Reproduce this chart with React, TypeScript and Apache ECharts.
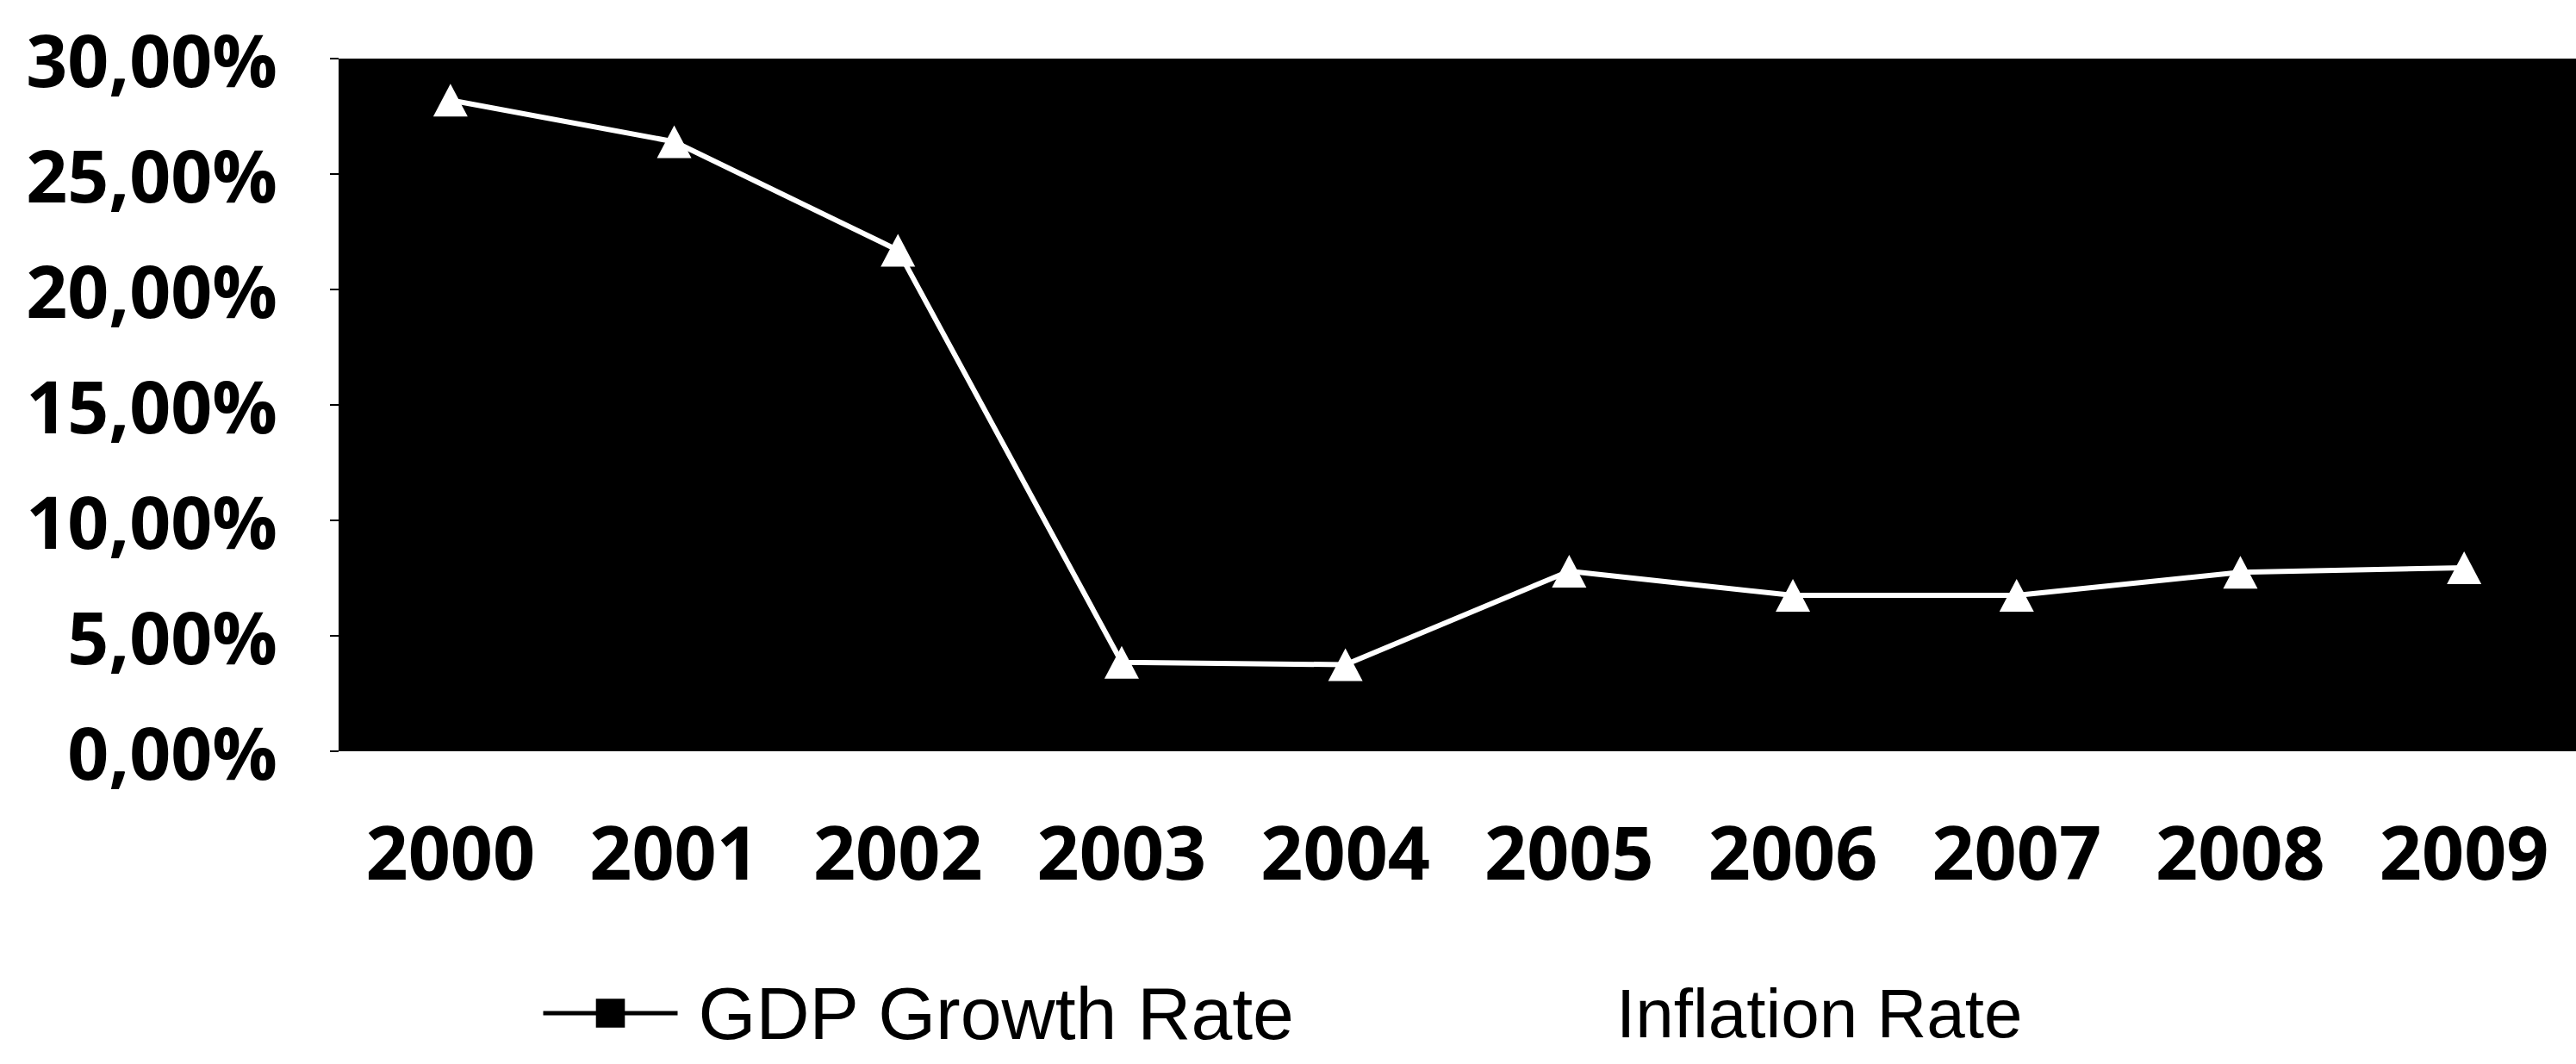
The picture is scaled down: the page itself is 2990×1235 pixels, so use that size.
import React, { useEffect, useRef } from "react";
import * as echarts from "echarts";

// ---- data ----
const years: string[] = ["2000", "2001", "2002", "2003", "2004", "2005", "2006", "2007", "2008", "2009"];
// Inflation Rate (%), white line with triangles
const inflationRate: number[] = [28.2, 26.4, 21.7, 3.85, 3.75, 7.8, 6.75, 6.75, 7.75, 7.95];
// GDP Growth Rate (%): drawn black on the black plot area, values not readable
const gdpGrowthRate: (number | null)[] = [null, null, null, null, null, null, null, null, null, null];
const yMin = 0;
const yMax = 30;
const yStep = 5;

const fmtPct = (v: number) => v.toFixed(2).replace(".", ",") + "%";

export default function App() {
  const ref = useRef<HTMLDivElement>(null);
  useEffect(() => {
    if (!ref.current) return;
    const chart = echarts.init(ref.current, undefined, { renderer: "svg" });
    chart.setOption({
      animation: false,
      backgroundColor: "#ffffff",
      grid: {
        left: 393,
        right: -24,
        top: 68,
        bottom: 363,
        show: true,
        backgroundColor: "#000000",
        borderWidth: 0,
      },
      xAxis: {
        type: "category",
        data: years,
        boundaryGap: true,
        axisLine: { show: false },
        axisTick: { show: false },
        axisLabel: {
          interval: 0,
          hideOverlap: false,
          margin: 72,
          color: "#000",
          fontFamily: "'Open Sans', 'Noto Sans', sans-serif",
          fontWeight: "bold",
          fontSize: 86,
        },
      },
      yAxis: {
        type: "value",
        min: yMin,
        max: yMax,
        interval: yStep,
        splitLine: { show: false },
        axisLine: { show: false },
        axisTick: { show: true, length: 10, lineStyle: { color: "#000", width: 2 } },
        axisLabel: {
          margin: 71,
          color: "#000",
          fontFamily: "'Open Sans', 'Noto Sans', sans-serif",
          fontWeight: "bold",
          fontSize: 84,
          formatter: (v: number) => fmtPct(v),
        },
      },
      legend: {
        left: 623,
        top: 1128,
        itemWidth: 156,
        itemHeight: 42,
        itemGap: 190,
        lineStyle: { width: 5 },
        data: [
          {
            name: "GDP Growth Rate",
            textStyle: {
              fontFamily: "'Liberation Sans', Arial, sans-serif",
              fontSize: 86,
              lineHeight: 74,
              color: "#000",
              padding: [0, 0, 0, 19],
            },
          },
          {
            name: "Inflation Rate",
            textStyle: {
              fontFamily: "'Liberation Sans', Arial, sans-serif",
              fontSize: 80,
              lineHeight: 74,
              color: "#000",
              padding: [0, 0, 0, 19],
            },
          },
        ],
      },
      series: [
        {
          name: "GDP Growth Rate",
          type: "line",
          data: gdpGrowthRate,
          symbol: "rect",
          symbolSize: 22,
          itemStyle: { color: "#000000" },
          lineStyle: { color: "#000000", width: 5 },
        },
        {
          name: "Inflation Rate",
          type: "line",
          data: inflationRate,
          symbol: "triangle",
          symbolSize: [40, 38],
          itemStyle: { color: "#ffffff" },
          lineStyle: { color: "#ffffff", width: 6 },
        },
      ],
    });
    return () => chart.dispose();
  }, []);
  return (
    <div
      ref={ref}
      style={{ position: "fixed", left: 0, top: 0, width: 2990, height: 1235 }}
    />
  );
}
